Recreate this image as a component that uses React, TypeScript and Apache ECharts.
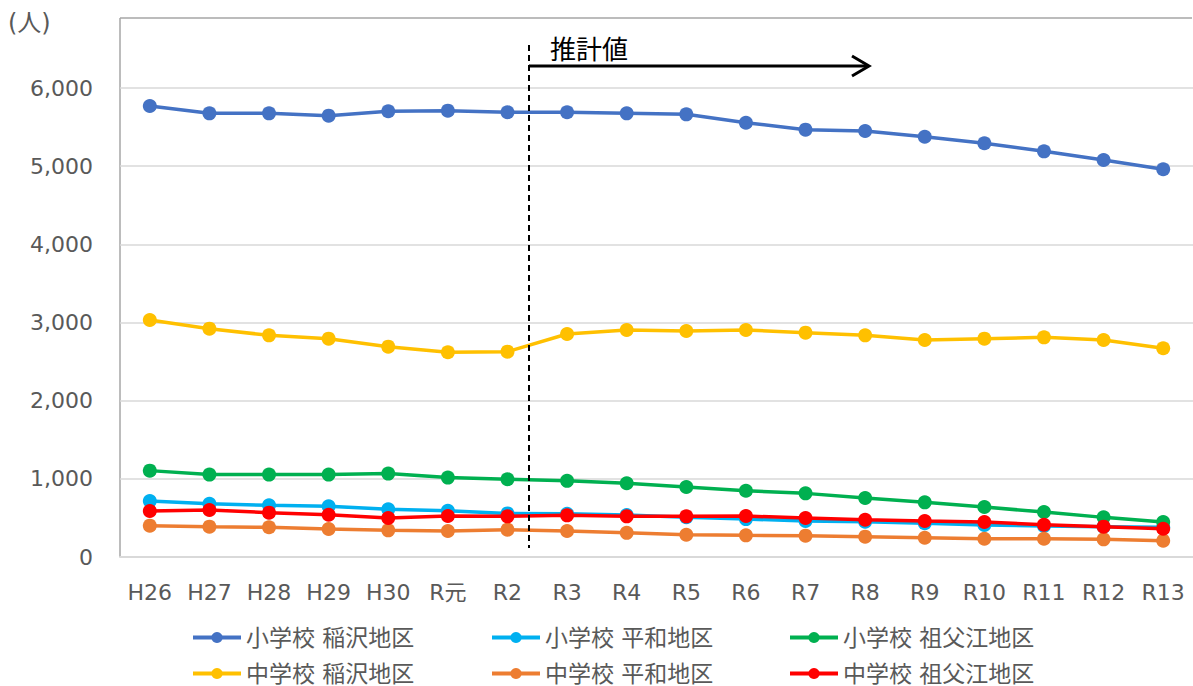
import React, { useEffect, useRef } from "react";
import * as echarts from "echarts";

const categories = ["H26", "H27", "H28", "H29", "H30", "R元", "R2", "R3", "R4", "R5", "R6", "R7", "R8", "R9", "R10", "R11", "R12", "R13"];
const shoInazawa = [5770, 5676, 5676, 5646, 5702, 5710, 5689, 5689, 5676, 5663, 5556, 5467, 5450, 5377, 5293, 5190, 5079, 4960];
const shoHeiwa = [716, 682, 661, 648, 610, 592, 558, 552, 537, 510, 485, 462, 452, 431, 409, 397, 388, 380];
const shoSobue = [1105, 1054, 1054, 1054, 1067, 1016, 995, 974, 944, 895, 848, 814, 754, 699, 639, 575, 507, 448];
const chuInazawa = [3032, 2921, 2836, 2793, 2691, 2619, 2627, 2853, 2904, 2891, 2904, 2870, 2836, 2776, 2793, 2810, 2776, 2670];
const chuHeiwa = [401, 388, 380, 358, 341, 333, 350, 333, 309, 285, 277, 273, 260, 247, 234, 234, 226, 209];
const chuSobue = [588, 601, 567, 541, 499, 524, 520, 533, 520, 520, 524, 499, 477, 460, 448, 413, 388, 362];

const seriesNames = ["小学校 稲沢地区", "小学校 平和地区", "小学校 祖父江地区", "中学校 稲沢地区", "中学校 平和地区", "中学校 祖父江地区"];
const seriesData = [shoInazawa, shoHeiwa, shoSobue, chuInazawa, chuHeiwa, chuSobue];
const seriesColors = ["#4472C4", "#00B0F0", "#00B050", "#FFC000", "#ED7D31", "#FF0000"];

const FONT = "'DejaVu Sans', 'Noto Sans CJK JP', sans-serif";
const TEXT = "#595959";

export default function App() {
  const ref = useRef<HTMLDivElement>(null);
  useEffect(() => {
    if (!ref.current) return;
    const chart = echarts.init(ref.current, undefined, { renderer: "svg" });
    const legendCommon = {
      orient: "vertical" as const,
      top: 626,
      height: 80,
      padding: 0,
      itemGap: 13,
      itemWidth: 48,
      itemHeight: 14,
      lineStyle: { width: 4 },
      textStyle: { fontSize: 23, color: TEXT, fontFamily: FONT },
    };
    chart.setOption({
      animation: false,
      textStyle: { fontFamily: FONT },
      grid: { left: 120, right: -2, top: 88, bottom: 129, containLabel: false },
      legend: [
        { ...legendCommon, left: 191, data: [seriesNames[0], seriesNames[3]] },
        { ...legendCommon, left: 490, data: [seriesNames[1], seriesNames[4]] },
        { ...legendCommon, left: 788, data: [seriesNames[2], seriesNames[5]] },
      ],
      xAxis: {
        type: "category",
        data: categories,
        boundaryGap: true,
        axisLine: { show: true, lineStyle: { color: "#D9D9D9", width: 2 } },
        axisTick: { show: false },
        axisLabel: { fontSize: 22, color: TEXT, margin: 24, fontFamily: FONT },
      },
      yAxis: {
        type: "value",
        min: 0,
        max: 6000,
        interval: 1000,
        axisLine: { show: false },
        axisTick: { show: false },
        axisLabel: {
          fontSize: 22,
          color: TEXT,
          margin: 27,
          fontFamily: FONT,
          formatter: (v: number) => v.toLocaleString("en-US"),
        },
        splitLine: { lineStyle: { color: "#D9D9D9", width: 1.5 } },
      },
      series: seriesNames.map((name, i) => ({
        name,
        type: "line",
        data: seriesData[i],
        symbol: "circle",
        symbolSize: 14,
        lineStyle: { color: seriesColors[i], width: 3.5 },
        itemStyle: { color: seriesColors[i] },
        z: 2 + i,
      })),
      graphic: [
        { type: "line", shape: { x1: 120, y1: 18, x2: 1192, y2: 18 }, style: { stroke: "#A6A6A6", lineWidth: 1.5 } },
        { type: "line", shape: { x1: 120, y1: 18, x2: 120, y2: 557 }, style: { stroke: "#A6A6A6", lineWidth: 1.5 } },
        { type: "line", shape: { x1: 529, y1: 45, x2: 529, y2: 548 }, style: { stroke: "#000", lineWidth: 2, lineDash: [6, 4] }, z: 20 },
        { type: "line", shape: { x1: 529, y1: 66, x2: 868, y2: 66 }, style: { stroke: "#000", lineWidth: 3 }, z: 20 },
        { type: "polyline", shape: { points: [[852, 56], [869, 66], [852, 76]] }, style: { stroke: "#000", lineWidth: 3, fill: null }, z: 20 },
        { type: "text", x: 550, y: 47, style: { text: "推計値", font: "26px 'Noto Sans CJK JP', sans-serif", fill: "#000", textVerticalAlign: "middle" }, z: 20 },
        { type: "text", x: 8, y: 23, style: { text: "(人)", font: "24px " + FONT, fill: TEXT, textVerticalAlign: "middle" }, z: 20 },
      ],
    });
    return () => chart.dispose();
  }, []);
  return <div ref={ref} style={{ position: "fixed", left: 0, top: 0, width: 1193, height: 686, background: "#fff" }} />;
}
